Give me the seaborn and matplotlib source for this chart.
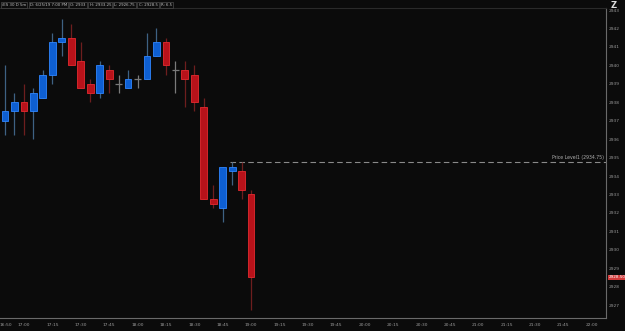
import numpy as np
import pandas as pd
import matplotlib
matplotlib.use("Agg")
import matplotlib.pyplot as plt
import matplotlib.transforms as mtransforms
import seaborn as sns

# ---- data ----
times = ["16:50", "16:55", "17:00", "17:05", "17:10", "17:15", "17:20", "17:25", "17:30",
         "17:35", "17:40", "17:45", "17:50", "17:55", "18:00", "18:05", "18:10", "18:15",
         "18:20", "18:25", "18:30", "18:35", "18:40", "18:45", "18:50", "18:55", "19:00"]
opens = [2937, 2937.5, 2938, 2937.5, 2938.25, 2939.5, 2941.25, 2941.5, 2940.25, 2939,
         2938.5, 2939.75, 2939, 2938.75, 2939.25, 2939.25, 2940.5, 2941.25, 2939.75,
         2939.75, 2939.5, 2937.75, 2932.75, 2932.25, 2934.25, 2934.25, 2933]
closes = [2937.5, 2938, 2937.5, 2938.5, 2939.5, 2941.25, 2941.5, 2940, 2938.75, 2938.5,
          2940, 2939.25, 2939, 2939.25, 2939.25, 2940.5, 2941.25, 2940, 2939.75, 2939.25,
          2938, 2932.75, 2932.5, 2934.5, 2934.5, 2933.25, 2928.5]
highs = [2940, 2938.5, 2939, 2938.75, 2939.75, 2941.75, 2942.5, 2942.25, 2941.25, 2939.25,
         2940.25, 2940, 2939.5, 2939.75, 2939.5, 2941.75, 2942, 2941.5, 2940.25, 2940.25,
         2940, 2938.25, 2933.5, 2934.5, 2934.75, 2934.75, 2933.25]
lows = [2936.25, 2936.25, 2936.25, 2936, 2938.25, 2939, 2940.5, 2940, 2938.75, 2938,
        2938.25, 2938.5, 2938.5, 2938.75, 2938.75, 2939.25, 2940.5, 2939.5, 2938.5, 2937.75,
        2937.5, 2932.75, 2932.25, 2931.5, 2933.5, 2932.75, 2926.75]
xtick_labels = ["16:50", "17:00", "17:15", "17:30", "17:45", "18:00", "18:15", "18:30",
                "18:45", "19:00", "19:15", "19:30", "19:45", "20:00", "20:15", "20:30",
                "20:45", "21:00", "21:15", "21:30", "21:45", "22:00"]
ytick_values = list(range(2927, 2944))
price_level = 2934.75
last_price = 2928.5
header = ["/ES 30 D 5m", "D: 6/25/19 7:00 PM", "O: 2933", "H: 2933.25",
          "L: 2926.75", "C: 2928.5", "R: 6.5"]


def to_idx(t):
    h, m = t.split(":")
    return ((int(h) * 60 + int(m)) - (16 * 60 + 50)) / 5.0


df = pd.DataFrame({"time": times, "open": opens, "close": closes,
                   "high": highs, "low": lows})
df["x"] = [to_idx(t) for t in df["time"]]

BG = "#0b0b0b"
sns.set_style("dark", {"axes.facecolor": BG, "figure.facecolor": BG})
plt.rcParams["font.family"] = ["DejaVu Sans"]

fig = plt.figure(figsize=(6.25, 3.31), dpi=100)
W, H = 625, 331
ax = fig.add_axes([0, (H - 318) / H, 606 / W, (318 - 8) / H])
ax.set_facecolor(BG)

up_fill, up_edge, up_wick = "#0e5fd2", "#2f86ff", "#3e6283"
dn_fill, dn_edge, dn_wick = "#b8121a", "#e52a2f", "#6e1e1e"
doji = "#7a7a7a"
bw = 0.72

for _, r in df.iterrows():
    if r["close"] > r["open"]:
        f, e, w = up_fill, up_edge, up_wick
    elif r["close"] < r["open"]:
        f, e, w = dn_fill, dn_edge, dn_wick
    else:
        f, e, w = doji, doji, doji
    ax.vlines(r["x"], r["low"], r["high"], color=w, lw=0.9, zorder=2)
    if r["close"] == r["open"]:
        ax.hlines(r["open"], r["x"] - bw / 2, r["x"] + bw / 2, color=doji, lw=0.9, zorder=3)
    else:
        lo = min(r["open"], r["close"])
        ax.bar(r["x"], abs(r["close"] - r["open"]), bottom=lo, width=bw,
               color=f, edgecolor=e, linewidth=0.6, zorder=3)

# price level line
x_start = df["x"].iloc[24] - 0.2
ax.plot([x_start, 70], [price_level, price_level], color="#8a8a8a", lw=0.8,
        dashes=(5, 3), zorder=1)
ax.text(63.3, price_level + 0.12, f"Price Level1 ({price_level:.2f})", color="#b0b0b0",
        fontsize=3.3, ha="right", va="bottom")

ax.set_xlim(-0.53, 63.5)
ax.set_ylim(2926.30, 2943.11)

ax.set_xticks([to_idx(t) for t in xtick_labels])
ax.set_xticklabels(xtick_labels)
ax.yaxis.tick_right()
ax.set_yticks(ytick_values)
ax.set_yticklabels([str(v) for v in ytick_values])
ax.tick_params(axis="both", colors="#9a9a9a", labelsize=3.2, length=0)
ax.tick_params(axis="x", pad=3.5)
ax.tick_params(axis="y", pad=2)
ax.grid(False)
ax.spines["left"].set_visible(False)
for s in ["right", "bottom", "top"]:
    ax.spines[s].set_visible(True)
    ax.spines[s].set_color("#6a6a6a")
    ax.spines[s].set_linewidth(0.8)
ax.spines["top"].set_color("#2a2a2a")

# nudge first tick label slightly right so it stays inside the figure
first = ax.xaxis.get_major_ticks()[0].label1
first.set_transform(first.get_transform() +
                    mtransforms.ScaledTranslation(1.2 / 100, 0, fig.dpi_scale_trans))

# last price tag
ax.text(1.004, (last_price - 2926.30) / (2943.11 - 2926.30), f"{last_price:.2f}",
        transform=ax.transAxes, fontsize=3.0, color="white", ha="left", va="center",
        bbox=dict(boxstyle="square,pad=0.15", fc="#d23a3a", ec="none"))

# header segments laid out one after another
fig.canvas.draw()
renderer = fig.canvas.get_renderer()
xp = 2.0
for t in header:
    txt = fig.text(xp / W, (H - 5) / H, t, fontsize=2.8, color="#c0c0c0",
                   ha="left", va="center",
                   bbox=dict(boxstyle="square,pad=0.3", fc="#0d0d0d", ec="#4a4a4a", lw=0.5))
    ext = txt.get_window_extent(renderer)
    xp = ext.x1 + 3.5

fig.text(614 / W, (H - 5) / H, "Z", fontsize=6, color="#dddddd", ha="center",
         va="center", fontweight="bold")

fig.savefig("out.png", dpi=100, facecolor=BG)
